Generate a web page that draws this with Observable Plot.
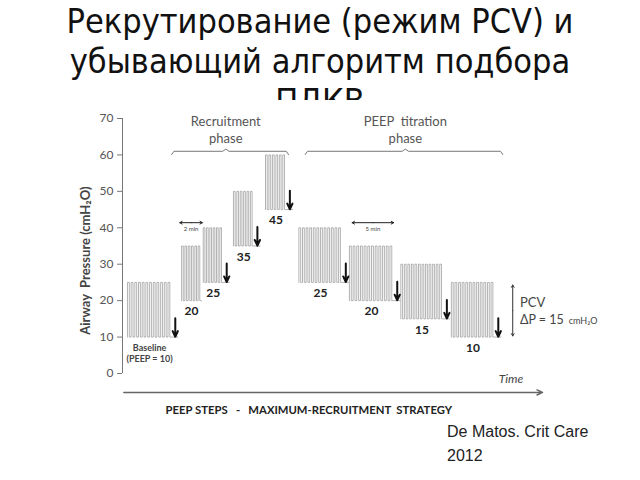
<!DOCTYPE html>
<html><head><meta charset="utf-8">
<script src="https://cdn.jsdelivr.net/npm/d3@7"></script>
<script src="https://cdn.jsdelivr.net/npm/@observablehq/plot@0.6"></script>
<style>
body{margin:0;width:640px;height:480px;position:relative;overflow:hidden;background:#fff;font-family:"Liberation Sans",Arial,sans-serif}
#title{position:absolute;top:1px;left:0;width:640px;text-align:center;font-family:"Liberation Sans Narrow","Arial Narrow","DejaVu Sans Condensed",sans-serif;font-size:34px;line-height:40px;color:#111}
#chart{position:absolute;top:100px;left:0}
#chart svg{background:#fff}
#caption{position:absolute;left:447px;top:420px;font-size:16px;line-height:24px;color:#222}
</style></head><body>
<div id="title">Рекрутирование (режим PCV) и<br>убывающий алгоритм подбора<br>ПДКВ</div>
<div id="chart"></div>
<div id="caption">De Matos. Crit Care<br>2012</div>
<script>
// ---- data ----
const blockLabels = ["Baseline\n(PEEP = 10)","20","25","35","45","25","20","15","10"];
const blockPeep   = [10,20,25,35,45,25,20,15,10];
const blockStart  = [0,6.0,8.4,11.75,15.3,19.0,24.6,30.3,35.9];   // minutes
const blockEnd    = [4.9,8.2,10.6,14.0,17.6,23.8,29.5,35.0,40.7];
const blockBreaths= [12,6,6,6,6,12,12,12,12];
const blockArrow  = [true,false,true,true,true,true,true,true,true];
const drivingPressure = 15;
const yTicks = [0,10,20,30,40,50,60,70];
const yTitle = "Airway  Pressure (cmH\u2082O)";
const phaseNames  = ["Recruitment\nphase","PEEP  titration\nphase"];
const phaseStart  = [4.9,19.7];
const phaseEnd    = [17.85,41.6];
const phaseMid    = [10.9,30.8];
const phaseLevel  = 61;
const durationLabels = ["2 min","5 min"];
const durationStart  = [5.8,24.9];
const durationEnd    = [8.3,29.5];
const durationLevel  = 41.4;
const timeAxis = {start:-0.4, end:46, level:-5.2};
const strategyTitle = "PEEP STEPS\u00a0\u00a0 -\u00a0\u00a0 MAXIMUM-RECRUITMENT\u00a0\u00a0STRATEGY";
const pcvAnnot = {t:42.7, low:10.3, high:24.3};
const xMin = -0.55, tickLen = 0.55;

// ---- derived tables ----
const blocks = blockPeep.map((p,i)=>({label:blockLabels[i], peep:p, start:blockStart[i], end:blockEnd[i], n:blockBreaths[i], arrow:blockArrow[i], mid:(blockStart[i]+blockEnd[i])/2}));
const wave = [];
blocks.forEach((b,i)=>{
  const top = b.peep + drivingPressure, period = (b.end-b.start)/b.n;
  wave.push({t:b.start,p:b.peep,block:i});
  for(let k=0;k<b.n;k++){
    const t0=b.start+k*period, t1=t0+period*0.5;
    wave.push({t:t0,p:top,block:i},{t:t1,p:top,block:i},{t:t1,p:b.peep,block:i},{t:t0+period,p:b.peep,block:i});
  }
  if (b.arrow) wave.push({t:b.end+0.7,p:b.peep,block:i});
});
const phases = phaseNames.map((name,i)=>({name,start:phaseStart[i],end:phaseEnd[i],mid:phaseMid[i]}));
const bracket = [];
phases.forEach((ph,i)=>{
  bracket.push(
    {t:ph.start,y:phaseLevel-0.9,g:i},{t:ph.start+0.25,y:phaseLevel,g:i},
    {t:ph.mid-0.35,y:phaseLevel,g:i},{t:ph.mid,y:phaseLevel+0.6,g:i},{t:ph.mid+0.35,y:phaseLevel,g:i},
    {t:ph.end-0.25,y:phaseLevel,g:i},{t:ph.end,y:phaseLevel-0.9,g:i});
});
const durations = durationLabels.map((l,i)=>({label:l,start:durationStart[i],end:durationEnd[i],mid:(durationStart[i]+durationEnd[i])/2}));

const font = "Lato, 'Open Sans', sans-serif";
const chart = Plot.plot({
  width:640, height:320,
  marginTop:18, marginBottom:47, marginLeft:122, marginRight:98,
  x:{type:"linear", domain:[xMin,46], axis:null},
  y:{type:"linear", domain:[0,70], axis:null},
  style:{fontFamily:font, background:"#fff"},
  marks:[
    Plot.ruleX([xMin],{y1:0,y2:70,stroke:"#777",strokeWidth:1}),
    Plot.ruleY(yTicks,{y:d=>d,x1:xMin-tickLen,x2:xMin,stroke:"#777"}),
    Plot.text(yTicks,{y:d=>d,x:xMin,dx:-9,textAnchor:"end",fontSize:12,fill:"#555",text:d=>String(d)}),
    Plot.text([yTitle],{x:-4.66,y:31,rotate:-90,fontSize:13,fontWeight:"bold",fill:"#444",text:d=>d}),
    Plot.line(wave,{x:"t",y:"p",z:"block",stroke:"#a0a0a0",strokeWidth:0.8}),
    Plot.arrow(blocks.filter(b=>b.arrow),{x1:d=>d.end+0.4,x2:d=>d.end+0.4,y1:d=>d.peep+5.2,y2:d=>d.peep+0.1,stroke:"#111",strokeWidth:2,headLength:7,headAngle:50}),
    Plot.text(blocks.slice(1),{x:"mid",y:"peep",dy:11,text:"label",fontSize:12,fontWeight:"bold",fill:"#222"}),
    Plot.text(blocks.slice(0,1),{x:"mid",y:"peep",dy:16,text:"label",fontSize:9,fontWeight:"bold",fill:"#444",lineHeight:1.25}),
    Plot.line(bracket,{x:"t",y:"y",z:"g",stroke:"#777",strokeWidth:1}),
    Plot.text(phases,{x:"mid",y:67,text:"name",fontSize:13,fill:"#555",lineHeight:1.3}),
    Plot.arrow(durations,{x1:"mid",x2:"start",y1:durationLevel,y2:durationLevel,stroke:"#222",strokeWidth:1,headLength:4,headAngle:60}),
    Plot.arrow(durations,{x1:"mid",x2:"end",y1:durationLevel,y2:durationLevel,stroke:"#222",strokeWidth:1,headLength:4,headAngle:60}),
    Plot.text(durations,{x:"mid",y:durationLevel,dy:6,text:"label",fontSize:6,fill:"#444"}),
    Plot.arrow([pcvAnnot],{x1:"t",x2:"t",y1:d=>(d.low+d.high)/2,y2:"high",stroke:"#333",strokeWidth:1,headLength:4,headAngle:60}),
    Plot.arrow([pcvAnnot],{x1:"t",x2:"t",y1:d=>(d.low+d.high)/2,y2:"low",stroke:"#333",strokeWidth:1,headLength:4,headAngle:60}),
    Plot.text(["PCV"],{x:43.5,y:19.5,textAnchor:"start",fontSize:13,fill:"#444",text:d=>d}),
    Plot.text(["\u0394P = "+drivingPressure],{x:43.5,y:14.6,textAnchor:"start",fontSize:12.5,fill:"#444",text:d=>d}),
    Plot.text(["cmH\u2082O"],{x:48.9,y:14.5,textAnchor:"start",fontSize:9,fill:"#444",text:d=>d}),
    Plot.arrow([timeAxis],{x1:"start",x2:"end",y1:"level",y2:"level",stroke:"#666",strokeWidth:1.5,headLength:6,headAngle:50}),
    Plot.text(["Time"],{x:42.5,y:-1.6,fontSize:12,fontStyle:"italic",fill:"#444",text:d=>d}),
    Plot.text([strategyTitle],{x:20.1,y:-10.2,fontSize:11.3,fontWeight:"bold",fill:"#222",text:d=>d})
  ]
});
document.getElementById("chart").appendChild(chart);
</script>
</body></html>
